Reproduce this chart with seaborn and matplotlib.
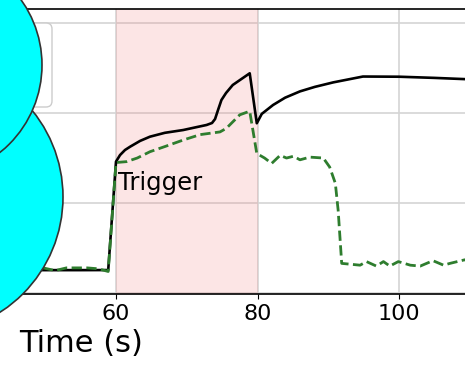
import matplotlib
matplotlib.use("Agg")
import matplotlib.pyplot as plt
import seaborn as sns
import pandas as pd
from matplotlib.patches import Circle, FancyBboxPatch

# ---- data ----
ref_time = [0, 10, 20, 30, 40, 50, 55, 58.9, 60, 60.57, 61.27, 62, 63.4, 64.8, 66.9,
            69.5, 71.2, 72.8, 73.57, 74.0, 74.42, 74.9, 75.55, 76.5, 77.53, 78.9, 79.9,
            80.6, 82.2, 83.9, 86, 88.1, 90.7, 94.9, 100, 105, 110]
ref_value = [0.26, 0.26, 0.26, 0.26, 0.26, 0.255, 0.255, 0.256, 1.46, 1.533, 1.589, 1.626,
             1.69, 1.737, 1.78, 1.811, 1.84, 1.867, 1.889, 1.933, 2.033, 2.144, 2.222,
             2.311, 2.367, 2.441, 1.886, 1.99, 2.089, 2.17, 2.24, 2.29, 2.34, 2.405,
             2.403, 2.39, 2.374]

resp_time = [0, 10, 20, 30, 40, 46, 47.5, 49.7, 51.4, 53.0, 55.9, 57.5, 58.9, 60, 61.5,
             63, 64.8, 67, 69.5, 71.9, 74.7, 75.6, 77.5, 78.9, 79.9, 81, 82, 83.2, 84.1,
             85.1, 86, 87.4, 89.3, 90.2, 91.0, 91.4, 91.9, 94.5, 95.4, 96.8, 97.8, 98.7,
             99.9, 101.6, 103, 104.8, 106.3, 107.2, 109.3, 110]
resp_value = [0.27, 0.26, 0.27, 0.26, 0.27, 0.27, 0.25, 0.28, 0.25, 0.28, 0.28, 0.27, 0.24,
              1.45, 1.46, 1.50, 1.57, 1.63, 1.70, 1.76, 1.79, 1.83, 1.98, 2.02, 1.55, 1.50,
              1.44, 1.53, 1.50, 1.52, 1.48, 1.51, 1.50, 1.40, 1.22, 0.92, 0.33, 0.31, 0.35,
              0.30, 0.35, 0.30, 0.35, 0.31, 0.30, 0.36, 0.31, 0.33, 0.37, 0.35]

trigger_start, trigger_end = 60, 80
x_ticks = [0, 20, 40, 60, 80, 100]
y_ticks = [0, 1, 2, 3]

# ---- figure ----
sns.set_style("ticks", {"axes.grid": True, "grid.color": "#d4d4d4"})
plt.rcParams.update({"text.color": "black", "axes.labelcolor": "black",
                     "xtick.color": "black", "ytick.color": "black"})
W, H = 465, 366
fig = plt.figure(figsize=(W / 100, H / 100), dpi=100)
ax_left, ax_right, ax_top, ax_bottom = -308.5, 469.75, 9, 294
ax = fig.add_axes([ax_left / W, (H - ax_bottom) / H,
                   (ax_right - ax_left) / W, (ax_bottom - ax_top) / H])

df_ref = pd.DataFrame({"t": ref_time, "v": ref_value})
df_resp = pd.DataFrame({"t": resp_time, "v": resp_value})

ax.axvspan(trigger_start, trigger_end, color="lightcoral", alpha=0.2, lw=0)
sns.lineplot(data=df_ref, x="t", y="v", ax=ax, color="black", lw=1.9)
sns.lineplot(data=df_resp, x="t", y="v", ax=ax, color="#2e7d2e", lw=2.0,
             linestyle="--")

ax.text(trigger_start + 0.3, 1.144, "Trigger", fontsize=17.5, va="baseline", ha="left",
        color="black")

ax.set_xlim(0, 110)
ax.set_ylim(-0.01, 3.155)
ax.set_xticks(x_ticks)
ax.set_yticks(y_ticks)
ax.tick_params(axis="both", labelsize=16, colors="black")
ax.set_xlabel("Time (s)", fontsize=22, color="black")
ax.set_ylabel("")
ax.grid(True, color="#d4d4d4", lw=1.2)
for s in ax.spines.values():
    s.set_color("black")
    s.set_linewidth(1.2)

# legend frame (contents hidden under big markers)
tr = fig.dpi_scale_trans
frame = FancyBboxPatch((-0.6, (H - 107) / 100), 1.12, 0.84,
                       boxstyle="round,pad=0,rounding_size=0.06",
                       fc=(1, 1, 1, 0.8), ec="#cccccc", lw=1.0, transform=tr, zorder=4)
fig.add_artist(frame)
c2 = Circle((-0.74, (H - 197) / 100), 1.37, fc="cyan", ec="#333333", lw=1.2,
            transform=tr, zorder=5)
c1 = Circle((-0.70, (H - 65) / 100), 1.12, fc="cyan", ec="#333333", lw=1.2,
            transform=tr, zorder=6)
fig.add_artist(c2)
fig.add_artist(c1)

fig.savefig("out.png", dpi=100)
